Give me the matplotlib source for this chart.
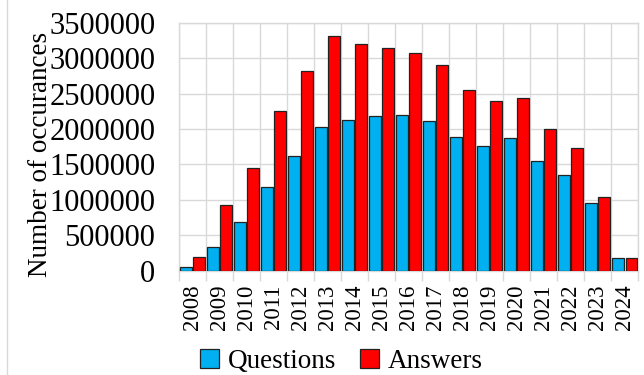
import numpy as np
import matplotlib.pyplot as plt
from matplotlib.lines import Line2D

years = [str(y) for y in range(2008, 2025)]
questions = [48000, 334000, 683000, 1177000, 1619000, 2024000, 2127000, 2188000,
             2197000, 2108000, 1883000, 1760000, 1868000, 1544000, 1350000, 951000, 183000]
answers = [198000, 927000, 1445000, 2258000, 2818000, 3312000, 3199000, 3138000,
           3068000, 2899000, 2550000, 2395000, 2433000, 1995000, 1727000, 1044000, 183000]

plt.rcParams['font.family'] = ['Liberation Serif', 'DejaVu Serif']

fig = plt.figure(figsize=(6.44, 3.75), dpi=100)
ax = fig.add_axes([0.278, 0.278, 0.713, 0.6615])

x = np.arange(len(years))
w = 0.43
ax.bar(x - 0.245, questions, w, color='#00B0F0', edgecolor='#222222', linewidth=0.9,
       label='Questions', zorder=3)
ax.bar(x + 0.245, answers, w, color='#FF0000', edgecolor='#222222', linewidth=0.9,
       label='Answers', zorder=3)

ax.set_xlim(-0.5, len(years) - 0.5)
ax.set_ylim(0, 3500000)
ax.set_yticks(np.arange(0, 3500001, 500000))
ax.set_yticklabels([str(v) for v in range(0, 3500001, 500000)], fontsize=22)
ax.tick_params(axis='y', length=0, pad=17)

# category labels centred, ticks/gridlines on the boundaries
ax.set_xticks(x)
ax.set_xticklabels(years, rotation=90, fontsize=16.5)
ax.tick_params(axis='x', which='major', length=0, pad=10)
ax.set_xticks(np.arange(-0.5, len(years)), minor=True)
ax.tick_params(axis='x', which='minor', length=7, color='#D9D9D9', width=1)

ax.grid(True, axis='y', color='#D9D9D9', linewidth=1, zorder=0)
ax.grid(True, axis='x', which='minor', color='#D9D9D9', linewidth=1, zorder=0)
for s in ax.spines.values():
    s.set_color('#D9D9D9')
    s.set_linewidth(1)

fig.text(41 / 644, 0.589, 'Number of occurances', rotation=90, fontsize=19.5,
         ha='center', va='center')

fig.legend(loc='center', bbox_to_anchor=(0.53, 0.035), ncol=2, frameon=False,
           fontsize=19.5, handlelength=0.7, handleheight=0.7, handletextpad=0.3,
           columnspacing=0.9, borderaxespad=0)

fig.add_artist(Line2D([7 / 644, 7 / 644], [0, 1], color='#D9D9D9', linewidth=1,
                      transform=fig.transFigure))

fig.savefig('out.png', dpi=100)
